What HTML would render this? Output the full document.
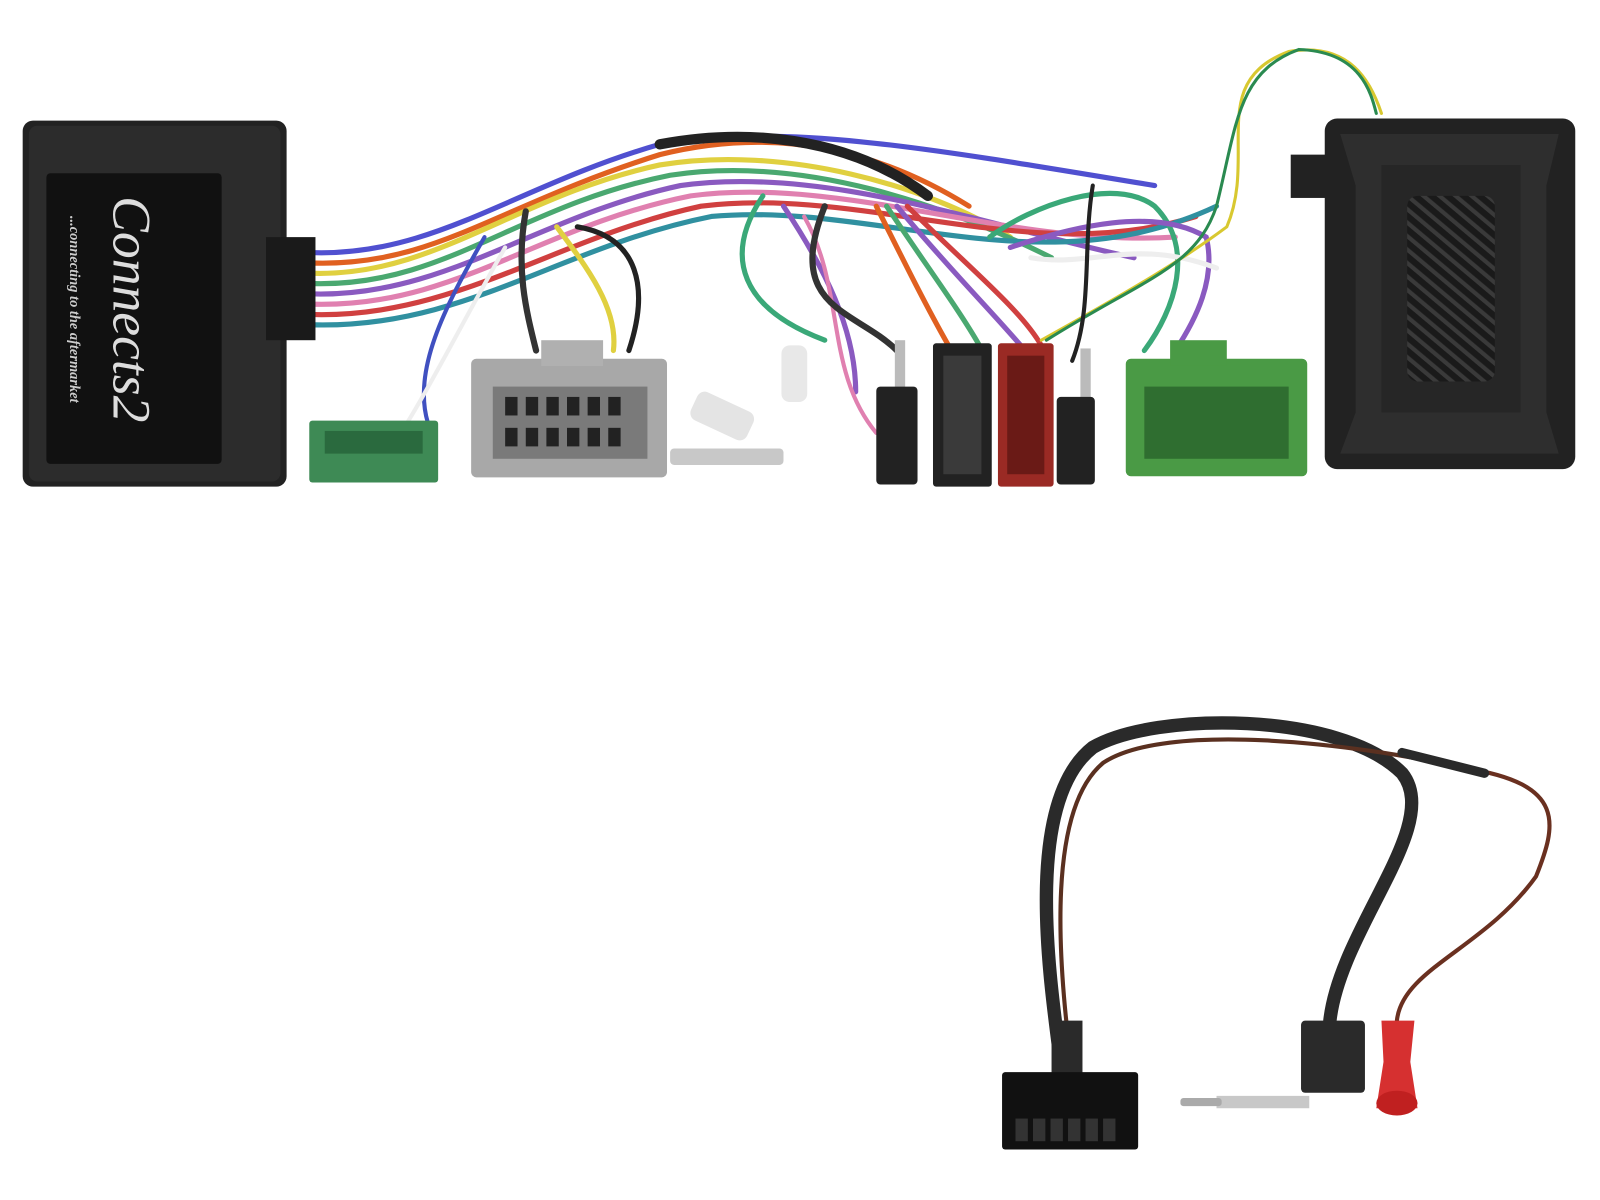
<!DOCTYPE html>
<html><head><meta charset="utf-8"><style>html,body{margin:0;padding:0;background:#fff;width:1600px;height:1200px;overflow:hidden}</style></head>
<body>
<svg width="1600" height="1200" viewBox="0 0 1552 1164" xmlns="http://www.w3.org/2000/svg" preserveAspectRatio="none">
<defs>
<pattern id="hatch" width="10" height="10" patternUnits="userSpaceOnUse" patternTransform="rotate(-50)">
<rect width="10" height="10" fill="#1a1a1a"/><rect width="4" height="10" fill="#3a3a3a"/></pattern>
</defs>
<rect width="1552" height="1164" fill="#fff"/>
<!-- wires top -->
<g fill="none" stroke-width="5" stroke-linecap="round">
<path d="M300 255 C420 260 480 200 640 150 C760 120 860 150 940 200" stroke="#e06020"/>
<path d="M300 265 C420 270 500 190 640 160 C760 140 900 180 980 230" stroke="#e0d040"/>
<path d="M300 275 C430 280 500 200 650 170 C780 150 920 200 1020 250" stroke="#4aa870"/>
<path d="M300 285 C430 290 520 210 660 180 C800 160 960 220 1100 250" stroke="#8a5ac0"/>
<path d="M300 295 C440 300 520 220 670 190 C820 170 980 240 1140 230" stroke="#e080b0"/>
<path d="M300 305 C440 310 540 230 680 200 C840 180 1000 260 1160 210" stroke="#d04040"/>
<path d="M300 315 C450 320 540 240 690 210 C850 195 1010 280 1180 200" stroke="#3090a0"/>
<path d="M300 245 C420 250 500 180 640 140 C760 120 880 140 1120 180" stroke="#5050d0"/>
<path d="M640 140 C720 125 820 130 900 190" stroke="#222" stroke-width="10"/>
<path d="M510 205 C500 260 510 300 520 340" stroke="#333" stroke-width="6"/>
<path d="M540 220 C570 260 600 300 595 340" stroke="#e0d040"/>
<path d="M560 220 C620 230 630 280 610 340" stroke="#222" stroke-width="5"/>
<path d="M470 230 C430 300 400 360 415 410" stroke="#4050c0" stroke-width="4"/>
<path d="M490 240 C450 310 420 370 395 410" stroke="#eee" stroke-width="4"/>
<path d="M740 190 C700 250 720 300 800 330" stroke="#3aa878"/>
<path d="M760 200 C800 260 830 320 830 380" stroke="#8a5ac0"/>
<path d="M780 210 C820 280 800 360 850 420" stroke="#e080b0" stroke-width="4"/>
<path d="M800 200 C760 300 830 300 870 340" stroke="#333" stroke-width="6"/>
<path d="M850 200 C880 260 900 300 920 335" stroke="#e06020"/>
<path d="M860 200 C900 260 930 300 950 335" stroke="#4aa870"/>
<path d="M870 200 C920 260 960 300 990 335" stroke="#8a5ac0"/>
<path d="M880 200 C940 260 990 300 1010 335" stroke="#d04040"/>
<path d="M960 230 C1000 200 1080 170 1120 200 C1160 240 1140 300 1110 340" stroke="#3aa878"/>
<path d="M980 240 C1040 220 1120 200 1170 230 C1180 270 1160 310 1140 340" stroke="#8a5ac0"/>
<path d="M1000 250 C1060 260 1100 230 1180 260" stroke="#eee"/>
<path d="M1010 330 C1100 280 1150 250 1190 220 C1220 150 1170 80 1250 50 C1310 40 1330 80 1340 110" stroke="#d8c830" stroke-width="3"/>
<path d="M1015 330 C1110 270 1160 260 1180 200 C1200 120 1200 70 1260 48 C1320 50 1330 90 1335 110" stroke="#2a8a50" stroke-width="3"/>
<path d="M1040 350 C1060 300 1050 240 1060 180" stroke="#222" stroke-width="4"/>
</g>
<!-- left box -->
<rect x="22" y="117" width="256" height="355" rx="10" fill="#222"/>
<rect x="28" y="122" width="244" height="345" rx="8" fill="#2c2c2c"/>
<rect x="258" y="230" width="48" height="100" fill="#1a1a1a"/>
<rect x="45" y="168" width="170" height="282" rx="4" fill="#111"/>
<text transform="translate(110,300) rotate(90)" font-family="Liberation Serif,serif" font-style="italic" font-size="52" fill="#ddd" text-anchor="middle">Connects2</text>
<text transform="translate(68,300) rotate(90)" font-family="Liberation Serif,serif" font-style="italic" font-size="14" font-weight="bold" fill="#ccc" text-anchor="middle">...connecting to the aftermarket</text>
<!-- right box -->
<rect x="1252" y="150" width="40" height="42" fill="#222"/>
<rect x="1285" y="115" width="243" height="340" rx="12" fill="#222"/>
<path d="M1300 130 L1512 130 L1500 180 L1500 400 L1512 440 L1300 440 L1315 400 L1315 180 Z" fill="#2e2e2e"/>
<rect x="1340" y="160" width="135" height="240" fill="#262626"/>
<rect x="1365" y="190" width="85" height="180" rx="10" fill="url(#hatch)"/>
<!-- connectors -->
<rect x="300" y="408" width="125" height="60" rx="3" fill="#3e8a55"/>
<rect x="315" y="418" width="95" height="22" fill="#2a6a3e"/>
<rect x="457" y="348" width="190" height="115" rx="5" fill="#a8a8a8"/>
<rect x="525" y="330" width="60" height="25" fill="#b0b0b0"/>
<rect x="478" y="375" width="150" height="70" fill="#7a7a7a"/>
<g fill="#222"><rect x="490" y="385" width="12" height="18"/><rect x="510" y="385" width="12" height="18"/><rect x="530" y="385" width="12" height="18"/><rect x="550" y="385" width="12" height="18"/><rect x="570" y="385" width="12" height="18"/><rect x="590" y="385" width="12" height="18"/><rect x="490" y="415" width="12" height="18"/><rect x="510" y="415" width="12" height="18"/><rect x="530" y="415" width="12" height="18"/><rect x="550" y="415" width="12" height="18"/><rect x="570" y="415" width="12" height="18"/><rect x="590" y="415" width="12" height="18"/></g>
<rect x="650" y="435" width="110" height="16" rx="4" fill="#c8c8c8"/>
<rect x="672" y="388" width="60" height="30" rx="8" fill="#e4e4e4" transform="rotate(25 700 400)"/>
<rect x="758" y="335" width="25" height="55" rx="8" fill="#e8e8e8"/>
<rect x="868" y="330" width="10" height="50" fill="#bbb"/>
<rect x="850" y="375" width="40" height="95" rx="4" fill="#222"/>
<rect x="905" y="333" width="57" height="139" rx="3" fill="#222"/>
<rect x="915" y="345" width="37" height="115" fill="#3a3a3a"/>
<rect x="968" y="333" width="54" height="139" rx="3" fill="#9a2a24"/>
<rect x="977" y="345" width="36" height="115" fill="#6a1a16"/>
<rect x="1048" y="338" width="10" height="50" fill="#bbb"/>
<rect x="1025" y="385" width="37" height="85" rx="4" fill="#222"/>
<rect x="1092" y="348" width="176" height="114" rx="5" fill="#4a9a45"/>
<rect x="1135" y="330" width="55" height="25" fill="#4a9a45"/>
<rect x="1110" y="375" width="140" height="70" fill="#2f6e30"/>
<!-- bottom harness -->
<g fill="none" stroke-linecap="round">
<path d="M1030 1040 C1020 960 990 780 1060 725 C1120 690 1300 690 1360 750 C1400 800 1300 900 1290 990" stroke="#2a2a2a" stroke-width="13"/>
<path d="M1040 1040 C1030 960 1010 790 1070 740 C1130 700 1310 720 1420 745" stroke="#5a3020" stroke-width="4"/>
<path d="M1420 745 C1520 760 1510 800 1490 850 C1440 920 1360 940 1355 990" stroke="#6a3020" stroke-width="4"/>
<path d="M1360 730 L1440 750" stroke="#2a2a2a" stroke-width="9"/>
</g>
<rect x="1262" y="990" width="62" height="70" rx="4" fill="#2a2a2a"/>
<rect x="1180" y="1063" width="90" height="12" fill="#c8c8c8"/>
<rect x="1145" y="1065" width="40" height="8" rx="3" fill="#aaa"/>
<path d="M1340 990 L1372 990 L1368 1030 L1375 1075 L1335 1075 L1342 1030 Z" fill="#d63030"/>
<ellipse cx="1355" cy="1070" rx="20" ry="12" fill="#c02020"/>
<rect x="1020" y="990" width="30" height="55" fill="#2a2a2a"/>
<rect x="972" y="1040" width="132" height="75" rx="3" fill="#111"/>
<g fill="#333"><rect x="985" y="1085" width="12" height="22"/><rect x="1002" y="1085" width="12" height="22"/><rect x="1019" y="1085" width="12" height="22"/><rect x="1036" y="1085" width="12" height="22"/><rect x="1053" y="1085" width="12" height="22"/><rect x="1070" y="1085" width="12" height="22"/></g>
</svg>
</body></html>
